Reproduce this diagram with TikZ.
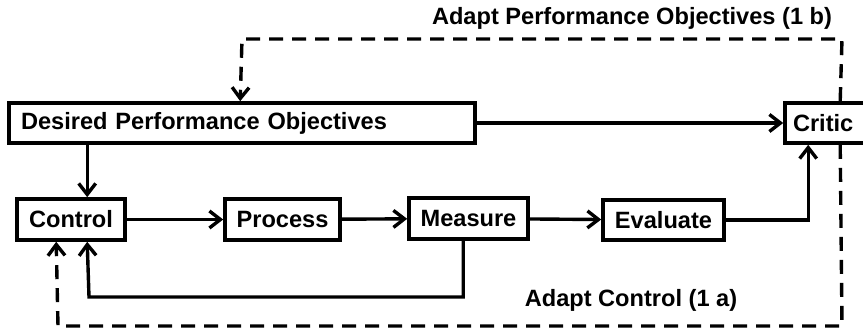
\documentclass[tikz,border=0pt]{standalone}
\usepackage{fontspec}
\setmainfont{Liberation Sans}
\usetikzlibrary{arrows.meta}

\tikzset{
  blk/.style={draw, line width=3.6pt, fill=white, rectangle, inner sep=0pt,
              font=\fontsize{23.6}{28}\selectfont\bfseries},
  lbl/.style={inner sep=0pt, font=\fontsize{23.6}{28}\selectfont\bfseries},
  flow/.style={line width=3.4pt, -{Straight Barb[length=11pt,width=17pt]}},
  adapt/.style={flow, dash pattern=on 14pt off 9pt},
}

\begin{document}
\begin{tikzpicture}[x=1pt, y=-1pt]
  \clip (0,0) rectangle (863,329);
  \fill[white] (0,0) rectangle (863,329);

  % blocks
  \node[blk, text width=442pt, align=left, inner xsep=12pt, minimum height=40pt]
        (dpo) at (242,123) {Desired Performance Objectives};
  \node[blk, text width=75pt, align=left, inner xsep=8pt, minimum height=40pt]
        (critic) at (830.5,123) {Critic};
  \node[blk, minimum width=108pt, minimum height=41pt] (control)  at (71,219.5)  {Control};
  \node[blk, minimum width=115pt, minimum height=41pt] (process)  at (282.5,219.5) {Process};
  \node[blk, minimum width=119pt, minimum height=41pt] (measure)  at (468.5,218.5) {Measure};
  \node[blk, minimum width=121pt, minimum height=40pt] (evaluate) at (663.5,220) {Evaluate};

  % corner points of the loops
  \coordinate (fbcorner) at (89,297);
  \coordinate (tr) at (842,39);
  \coordinate (tl) at (242,39);
  \coordinate (br) at (842,326);
  \coordinate (bl) at (58,326);

  % main signal flow
  \draw[flow] (control) -- (process);
  \draw[flow] (process) -- (measure);
  \draw[flow] (measure) -- (evaluate);
  \draw[flow] (evaluate.east) -| ([xshift=25pt]critic.south west);
  \draw[flow] (dpo.east) -- (critic.west);
  \draw[flow] ([xshift=80pt]dpo.south west) -- ([xshift=72pt]control.north west);
  \draw[flow] ([xshift=56pt]measure.south west) |- (fbcorner)
              -- ([xshift=72pt]control.south west);

  % adaptation loops
  \draw[adapt] ([xshift=57pt]critic.north west) -- (tr) -- (tl)
               -- ([xshift=233pt]dpo.north west);
  \draw[adapt] ([xshift=57pt]critic.south west) -- (br) -- (bl)
               -- ([xshift=41pt]control.south west);

  % loop labels
  \node[lbl] (lblb) at (632,18) {Adapt Performance Objectives (1 b)};
  \node[lbl] (lbla) at (631,300) {Adapt Control (1 a)};
\end{tikzpicture}
\end{document}
